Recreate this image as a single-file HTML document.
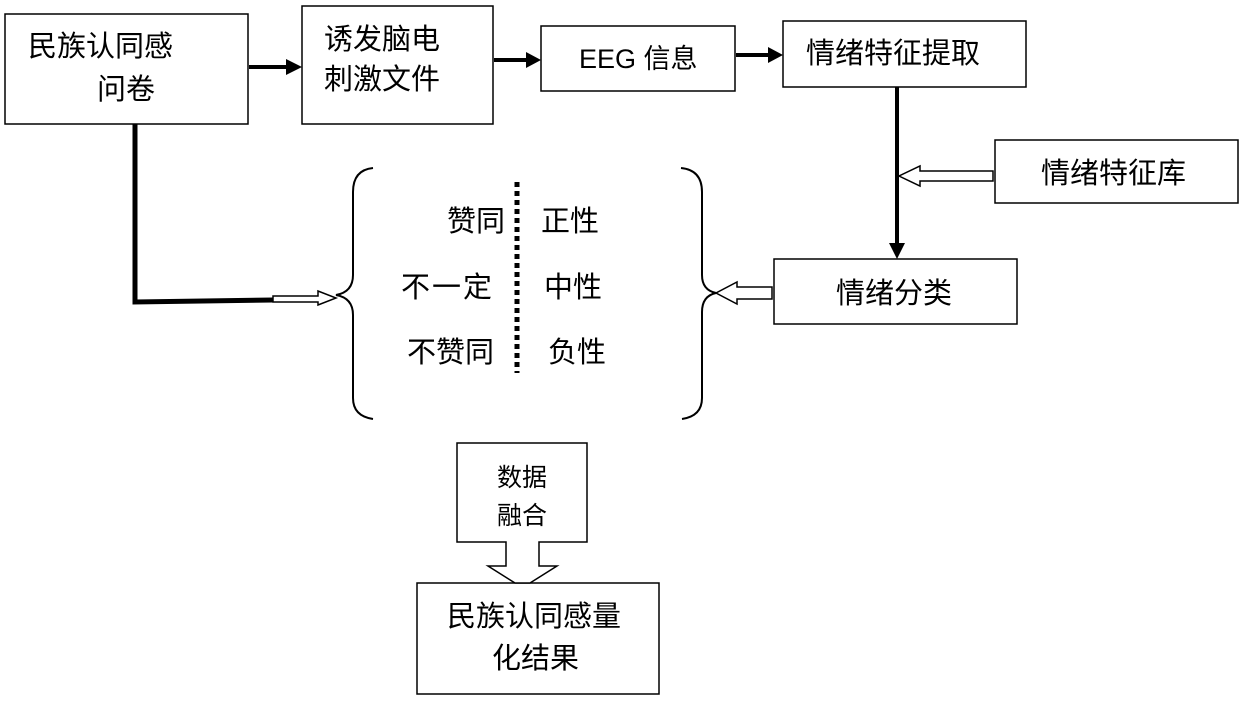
<!DOCTYPE html>
<html><head><meta charset="utf-8"><style>
body{margin:0;background:#fff;}
svg text{font-family:"Liberation Sans","Noto Sans CJK SC",sans-serif;font-size:29px;fill:#000;}
</style></head><body>
<svg width="1240" height="698" viewBox="0 0 1240 698" xmlns="http://www.w3.org/2000/svg">
<g fill="#fff" stroke="#000" stroke-width="1.5">
<rect x="5" y="14" width="243" height="110"/>
<rect x="302" y="6" width="191" height="118"/>
<rect x="541" y="26" width="194" height="65"/>
<rect x="783" y="21" width="243" height="66"/>
<rect x="995" y="140" width="243" height="63"/>
<rect x="774" y="259" width="243" height="65"/>
<rect x="417" y="583" width="242" height="111"/>
</g>
<g stroke="#000" stroke-width="4" fill="none">
<line x1="249" y1="67" x2="287" y2="67"/>
<line x1="494" y1="60" x2="527" y2="60"/>
<line x1="736" y1="55" x2="769" y2="55"/>
<line x1="897" y1="87" x2="897" y2="245"/>
<polyline points="135,124 135,302 273,300" stroke-width="5"/>
</g>
<g fill="#000">
<polygon points="302,67 286,59 286,75"/>
<polygon points="541,60 526,52 526,68"/>
<polygon points="783,55 768,47 768,63"/>
<polygon points="897,259 889,243 905,243"/>
</g>
<g fill="#fff" stroke="#000" stroke-width="1.5">
<polygon points="273,296 318,296 318,291 336,298 318,305 318,302 273,302"/>
<polygon points="993,171 920,171 920,166 899,176 920,186 920,181 993,181"/>
<polygon points="772,287 737,287 737,282 716,293 737,304 737,299 772,299"/>
<polygon points="457,443 587,443 587,542 539,542 539,566 557,566 530,583 515,583 488,566 506,566 506,542 457,542"/>
</g>
<g stroke="#000" stroke-width="2" fill="none">
<path d="M373,168 Q353,170 353,192 L353,275 Q353,292 336,295 Q353,298 353,315 L353,398 Q353,416 373,419"/>
<path d="M681,168 Q702,170 702,192 L702,275 Q702,290 716,293 Q702,296 702,312 L702,398 Q702,416 682,419"/>
</g>
<line x1="517" y1="182" x2="517" y2="373" stroke="#000" stroke-width="5" stroke-dasharray="5,4"/>
<text x="28" y="56">民族认同感</text>
<text x="97" y="99">问卷</text>
<text x="324" y="49">诱发脑电</text>
<text x="324" y="89">刺激文件</text>
<text x="579" y="68" style="font-size:27px">EEG 信息</text>
<text x="806" y="63">情绪特征提取</text>
<text x="1041" y="183">情绪特征库</text>
<text x="836" y="303">情绪分类</text>
<text x="447" y="231">赞同</text>
<text x="401" y="297" style="letter-spacing:2px">不一定</text>
<text x="407" y="362">不赞同</text>
<text x="541" y="231">正性</text>
<text x="544" y="297">中性</text>
<text x="548" y="362">负性</text>
<text x="497" y="486" style="font-size:25px">数据</text>
<text x="497" y="524" style="font-size:25px">融合</text>
<text x="447" y="626">民族认同感量</text>
<text x="492" y="668">化结果</text>
</svg>
</body></html>
